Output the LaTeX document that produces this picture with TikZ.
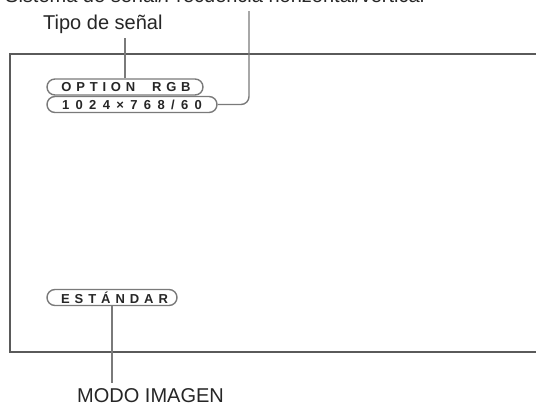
\documentclass[tikz,border=0pt]{standalone}
\usepackage{fontspec}
\setmainfont{Liberation Sans}
\newfontfamily\pillfont{Liberation Sans}
\usetikzlibrary{shapes.misc}

\definecolor{linegray}{HTML}{7A7A7A}
\definecolor{framegray}{HTML}{5A5A5A}
\definecolor{pilltext}{HTML}{262626}

\begin{document}
\begin{tikzpicture}[x=1pt, y=-1pt,
  pill/.style={rounded rectangle, draw=linegray, line width=1.4pt, minimum height=16pt,
    inner sep=0pt, text=pilltext,
    font=\pillfont\bfseries\fontsize{13}{13}\selectfont\addfontfeature{LetterSpace=#1}},
  pill/.default=34,
  callout/.style={font=\fontsize{20}{20}\selectfont, text=black!85, inner sep=0pt},
  leader/.style={linegray, line width=1.4pt}]
  \useasboundingbox (0,0) rectangle (536,405);

  % Screen frame
  \draw[framegray, line width=1.4pt] (536,54) -- (10,54) -- (10,352) -- (536,352);

  % Display items
  \node[pill=37, minimum width=156pt] (opt) at (125,87) {\hspace*{2pt}OPTION\ \ RGB};
  \node[pill=49, minimum width=170pt] (res) at (132,104.5) {1024×768/60};
  \node[pill=38, minimum width=130pt] (std) at (112,297.5) {\hspace*{5pt}ESTÁNDAR};

  % Callout texts
  \node[callout, anchor=base west] (sig) at (5,2.5) {Sistema de señal/Frecuencia horizontal/vertical};
  \node[callout, anchor=base west] (typ) at (43,29) {Tipo de señal};
  \node[callout, anchor=base west] (mode) at (77,402.5) {MODO IMAGEN};

  % Leaders
  \coordinate (typ-end) at (125,38);
  \coordinate (sig-end) at (249,11);
  \coordinate (mode-end) at (112,383);
  \draw[leader] (opt.north) -- (opt.north |- typ-end);
  \draw[leader, rounded corners=8pt] (sig-end) |- (res.east);
  \draw[leader] (std.south) -- (std.south |- mode-end);
\end{tikzpicture}
\end{document}
